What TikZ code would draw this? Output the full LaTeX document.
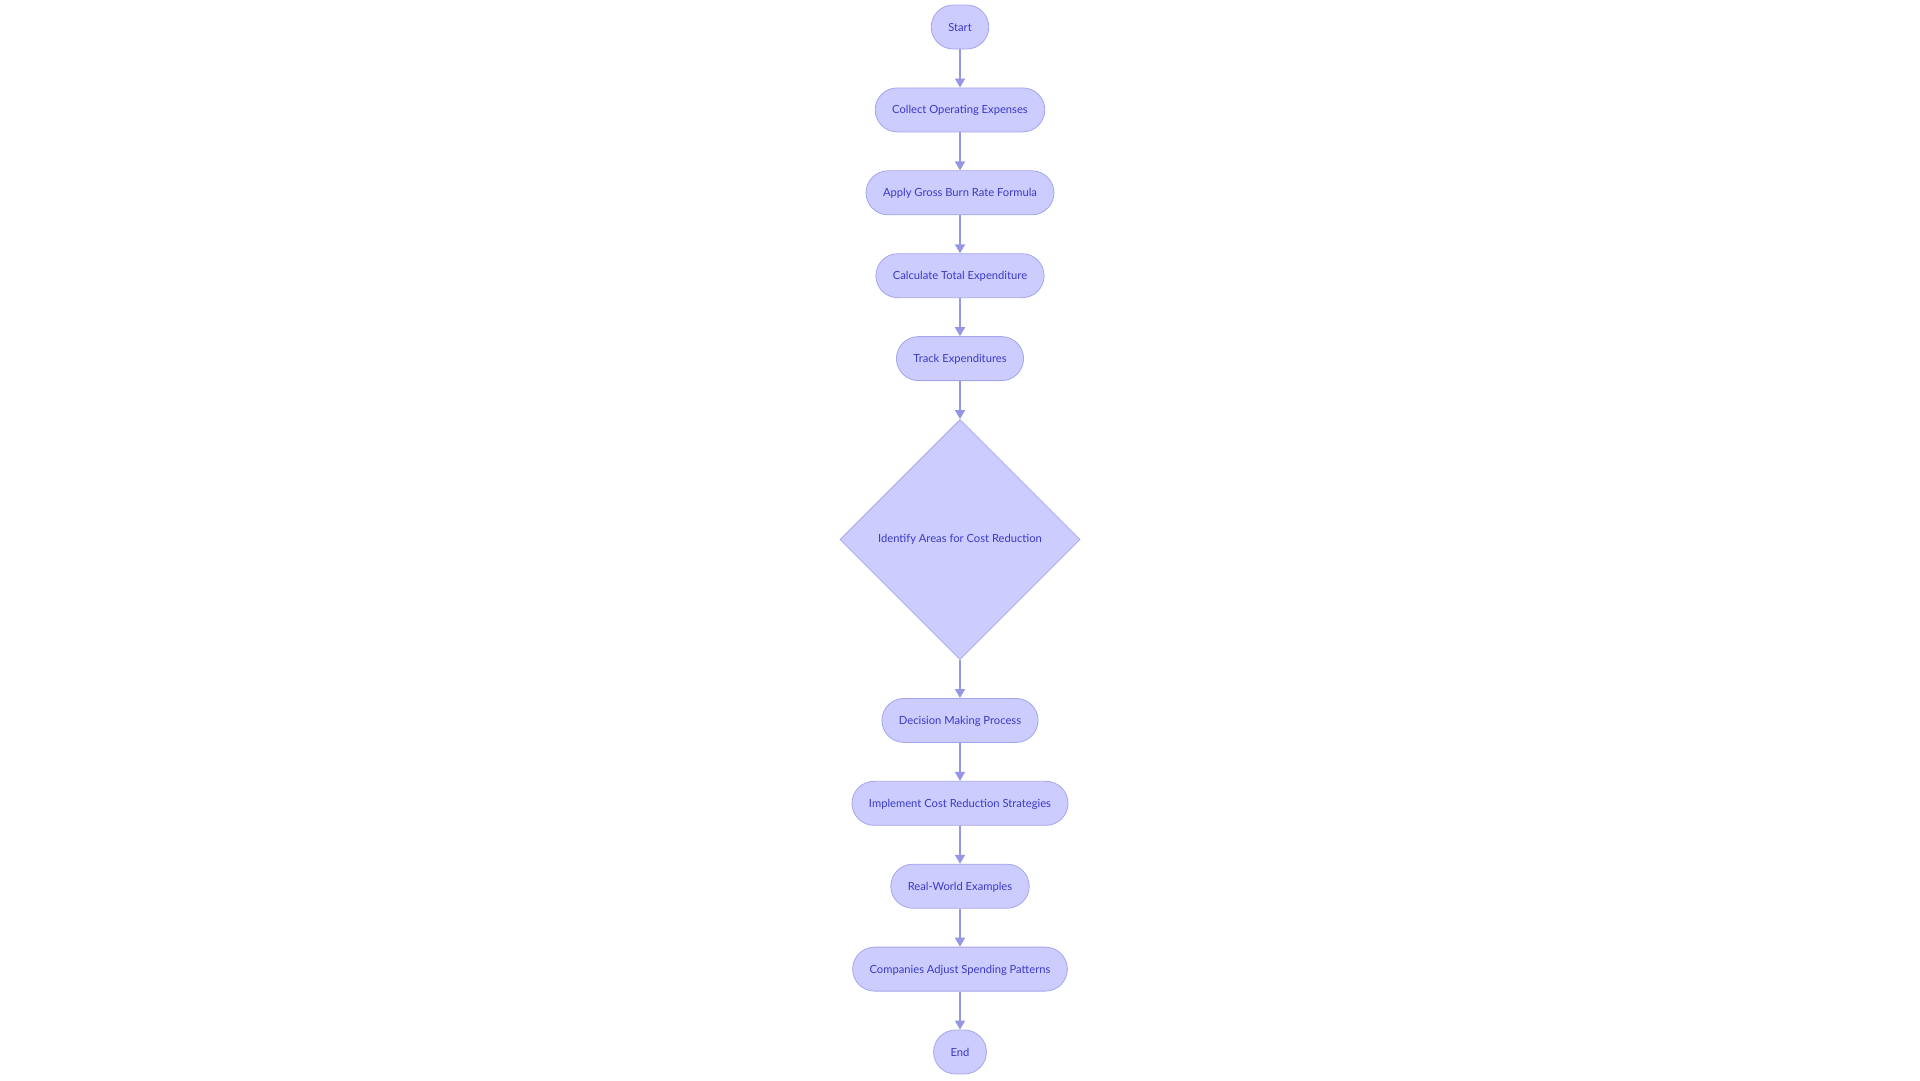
\documentclass[tikz,border=0pt]{standalone}
\usepackage{fontspec}
\setmainfont{Lato}
\usetikzlibrary{positioning,shapes.geometric,arrows.meta}
\definecolor{boxfill}{RGB}{204,204,255}
\definecolor{boxline}{RGB}{165,165,238}
\definecolor{boxtext}{RGB}{58,58,200}
\definecolor{linkcol}{RGB}{150,150,230}
\begin{document}
\begin{tikzpicture}[x=1pt,y=1pt,>={Triangle[width=10pt,length=9pt]},node distance=38.1pt,
    box/.style={draw=boxline,fill=boxfill,text=boxtext,line width=0.8pt,rounded corners=22pt,
        minimum height=44pt,inner xsep=17pt,inner ysep=2pt,text height=9pt,text depth=1pt,
        font=\fontsize{11.2}{13}\selectfont},
    decision/.style={diamond,aspect=1,draw=boxline,fill=boxfill,text=boxtext,line width=0.8pt,
        minimum size=240pt,inner sep=0pt,font=\fontsize{11.2}{13}\selectfont},
    link/.style={->,draw=linkcol,line width=1.6pt}]
    \useasboundingbox (0,0) rectangle (1920,-1080);
    \node[box](start) at (960,-27){Start};
    \node[box,below=of start](collect){Collect Operating Expenses};
    \node[box,below=of collect](formula){Apply Gross Burn Rate Formula};
    \node[box,below=of formula](total){Calculate Total Expenditure};
    \node[box,below=of total](track){Track Expenditures};
    \node[decision,below=of track](areas){Identify Areas for Cost Reduction};
    \node[box,below=of areas](decide){Decision Making Process};
    \node[box,below=of decide](strategies){Implement Cost Reduction Strategies};
    \node[box,below=of strategies](examples){Real-World Examples};
    \node[box,below=of examples](adjust){Companies Adjust Spending Patterns};
    \node[box,below=of adjust](end){End};
    \foreach \a/\b in {start/collect,collect/formula,formula/total,total/track,track/areas,
        areas/decide,decide/strategies,strategies/examples,examples/adjust,adjust/end}
        \draw[link](\a)--(\b);
\end{tikzpicture}
\end{document}
